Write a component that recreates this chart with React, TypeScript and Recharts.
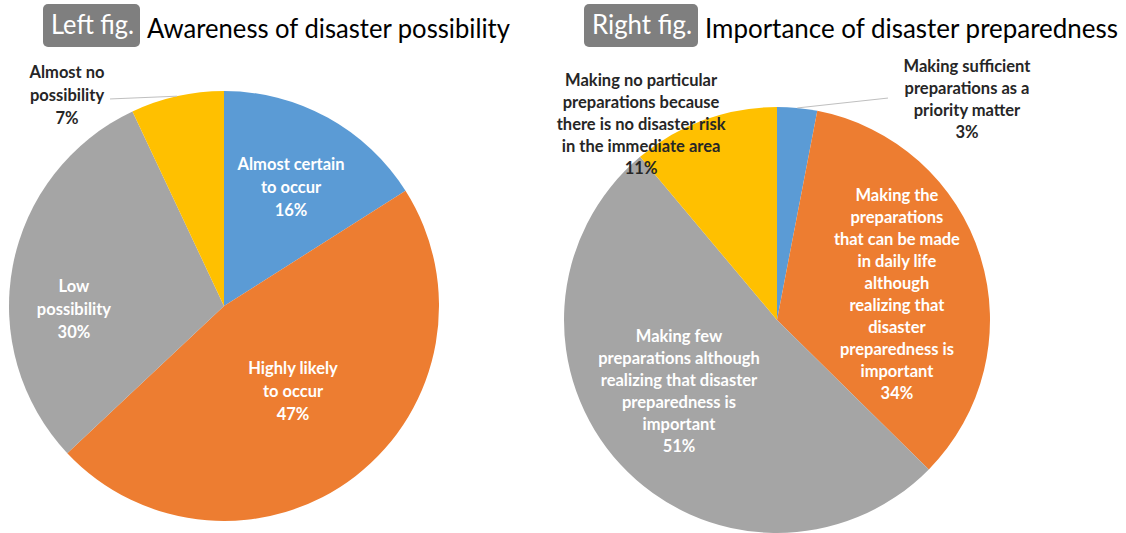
import { Cell, Pie, PieChart } from "recharts";

const COLORS = ["#5B9BD5", "#ED7D31", "#A5A5A5", "#FFC000"];

// left figure: awareness of disaster possibility
const leftNames = [
  "Almost certain to occur",
  "Highly likely to occur",
  "Low possibility",
  "Almost no possibility",
];
const leftValues = [16, 47, 30, 7];
const leftLines = [
  ["Almost certain", "to occur"],
  ["Highly likely", "to occur"],
  ["Low", "possibility"],
  ["Almost no", "possibility"],
];

// right figure: importance of disaster preparedness
const rightNames = [
  "Making sufficient preparations as a priority matter",
  "Making the preparations that can be made in daily life although realizing that disaster preparedness is important",
  "Making few preparations although realizing that disaster preparedness is important",
  "Making no particular preparations because there is no disaster risk in the immediate area",
];
const rightValues = [3, 34, 51, 11];
const rightLines = [
  ["Making sufficient", "preparations as a", "priority matter"],
  [
    "Making the",
    "preparations",
    "that can be made",
    "in daily life",
    "although",
    "realizing that",
    "disaster",
    "preparedness is",
    "important",
  ],
  [
    "Making few",
    "preparations although",
    "realizing that disaster",
    "preparedness is",
    "important",
  ],
  [
    "Making no particular",
    "preparations because",
    "there is no disaster risk",
    "in the immediate area",
  ],
];

type LabelPos = {
  dx: number;
  dy: number;
  inside: boolean;
  leader?: [number, number];
};

// label block centres, as fractions of the radius from the pie centre
const leftLayout: LabelPos[] = [
  { dx: 0.312, dy: -0.553, inside: true },
  { dx: 0.321, dy: 0.395, inside: true },
  { dx: -0.698, dy: 0.014, inside: true },
  { dx: -0.73, dy: -0.981, inside: false, leader: [-0.53, -0.963] },
];
const rightLayout: LabelPos[] = [
  { dx: 0.892, dy: -1.038, inside: false, leader: [0.521, -1.042] },
  { dx: 0.563, dy: -0.12, inside: true },
  { dx: -0.46, dy: 0.331, inside: true },
  { dx: -0.638, dy: -0.92, inside: false },
];

const FONT = "Lato, 'Open Sans', sans-serif";
const RAD = Math.PI / 180;

const makeLabel =
  (lines: string[][], layout: LabelPos[], lh: number) => (props: any) => {
    const { cx, cy, outerRadius, midAngle, index, value } = props;
    const pos = layout[index];
    const x = cx + pos.dx * outerRadius;
    const y = cy + pos.dy * outerRadius;
    const all = [...lines[index], `${value}%`];
    const top = y - ((all.length - 1) * lh) / 2 + 6;
    let leader = null;
    if (pos.leader) {
      const sx = cx + outerRadius * Math.cos(-midAngle * RAD);
      const sy = cy + outerRadius * Math.sin(-midAngle * RAD);
      leader = (
        <line
          x1={sx}
          y1={sy}
          x2={cx + pos.leader[0] * outerRadius}
          y2={cy + pos.leader[1] * outerRadius}
          stroke="#BFBFBF"
          strokeWidth={1}
        />
      );
    }
    return (
      <g>
        {leader}
        <text
          textAnchor="middle"
          fontFamily={FONT}
          fontWeight={700}
          fontSize={16.5}
          fill={pos.inside ? "#FFFFFF" : "#262626"}
        >
          {all.map((l, i) => (
            <tspan key={i} x={x} y={top + i * lh}>
              {l}
            </tspan>
          ))}
        </text>
      </g>
    );
  };

const leftData = leftNames.map((name, i) => ({ name, value: leftValues[i] }));
const rightData = rightNames.map((name, i) => ({ name, value: rightValues[i] }));

function Title({
  tag,
  text,
  boxX,
  boxW,
  tagW,
  textX,
  textW,
}: {
  tag: string;
  text: string;
  boxX: number;
  boxW: number;
  tagW: number;
  textX: number;
  textW: number;
}) {
  return (
    <g fontFamily={FONT}>
      <rect x={boxX} y={4} width={boxW} height={43} rx={5} fill="#7F7F7F" />
      <text
        x={boxX + 8}
        y={34}
        fontSize={27}
        fill="#FFFFFF"
        textLength={tagW}
        lengthAdjust="spacingAndGlyphs"
      >
        {tag}
      </text>
      <text
        x={textX}
        y={38}
        fontSize={26}
        fill="#000000"
        textLength={textW}
        lengthAdjust="spacingAndGlyphs"
      >
        {text}
      </text>
    </g>
  );
}

export default function App() {
  return (
    <div
      style={{
        position: "absolute",
        left: 0,
        top: 0,
        width: 1126,
        height: 533,
        background: "#fff",
      }}
    >
      <PieChart
        width={1126}
        height={533}
        margin={{ top: 0, right: 0, bottom: 0, left: 0 }}
      >
        <Pie
          data={leftData}
          dataKey="value"
          nameKey="name"
          cx={224}
          cy={306}
          outerRadius={215}
          startAngle={90}
          endAngle={-270}
          stroke="none"
          label={makeLabel(leftLines, leftLayout, 23)}
          labelLine={false}
          isAnimationActive={false}
        >
          {leftData.map((d, i) => (
            <Cell key={d.name} fill={COLORS[i]} />
          ))}
        </Pie>
        <Pie
          data={rightData}
          dataKey="value"
          nameKey="name"
          cx={777}
          cy={320}
          outerRadius={213}
          startAngle={90}
          endAngle={-270}
          stroke="none"
          label={makeLabel(rightLines, rightLayout, 22)}
          labelLine={false}
          isAnimationActive={false}
        >
          {rightData.map((d, i) => (
            <Cell key={d.name} fill={COLORS[i]} />
          ))}
        </Pie>
      </PieChart>
      <svg
        width={1126}
        height={60}
        style={{ position: "absolute", left: 0, top: 0 }}
      >
        <Title
          tag="Left fig."
          text="Awareness of disaster possibility"
          boxX={43}
          boxW={97}
          tagW={83}
          textX={147}
          textW={363}
        />
        <Title
          tag="Right fig."
          text="Importance of disaster preparedness"
          boxX={584}
          boxW={114}
          tagW={100}
          textX={705}
          textW={413}
        />
      </svg>
    </div>
  );
}
